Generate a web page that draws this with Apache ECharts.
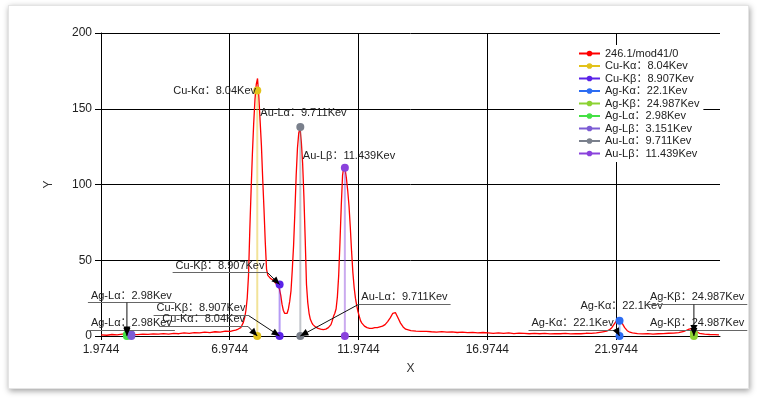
<!DOCTYPE html>
<html>
<head>
<meta charset="utf-8">
<script src="https://cdn.jsdelivr.net/npm/echarts@6/dist/echarts.min.js"></script>
<style>
html,body{margin:0;padding:0;background:#fff;}
#card{position:absolute;left:8px;top:5px;width:739px;height:382px;background:#fff;border:1px solid #e4e4e4;box-shadow:1px 2px 6px rgba(0,0,0,0.38);}
#main{position:absolute;left:0;top:0;width:758px;height:399px;}
</style>
</head>
<body>
<div id="card"></div>
<div id="main"></div>
<script>
// 能谱曲线 [keV, 计数]
const spectrumName = '246.1/mod41/0';
const spectrum = [
  [1.98,0.8],[2.2,0.5],[2.4,1.0],[2.6,0.7],[2.8,1.2],[3.0,1.5],[3.2,1.0],[3.4,0.9],[3.6,1.3],[3.8,1.1],
  [4.0,1.4],[4.2,1.2],[4.4,1.6],[4.6,1.3],[4.8,1.8],[5.0,1.5],[5.2,2.0],[5.4,1.7],[5.6,2.2],[5.8,2.0],
  [6.0,2.5],[6.2,2.2],[6.4,2.8],[6.6,2.6],[6.8,3.2],[7.0,3.0],[7.1,3.6],[7.2,3.9],[7.3,4.6],[7.4,5.5],
  [7.45,6.5],[7.5,9],[7.55,12],[7.6,17],[7.65,25],[7.7,40],[7.75,70],[7.8,96],[7.85,120],[7.9,140],
  [7.95,156],[8.0,166],[8.05,170],[8.1,158],[8.15,142],[8.2,126],[8.25,104],[8.3,84],[8.35,62],[8.4,44],
  [8.45,40],[8.5,39],[8.55,38],[8.6,37.5],[8.65,37],[8.7,36],[8.75,35],[8.8,34],[8.85,33],[8.9,31],
  [8.95,27],[9.0,21],[9.05,17],[9.1,15],[9.15,14],[9.2,15],[9.25,18],[9.3,23],[9.35,30],[9.4,44],
  [9.45,60],[9.5,82],[9.55,106],[9.6,124],[9.65,134],[9.7,137],[9.75,128],[9.8,114],[9.85,92],[9.9,64],
  [9.95,34],[10.0,22],[10.05,15],[10.1,11],[10.15,9],[10.2,7.5],[10.3,6],[10.4,5],[10.5,4.5],[10.6,4.2],
  [10.7,4.5],[10.8,5.5],[10.9,7.5],[10.95,10],[11.0,13],[11.05,15],[11.1,18],[11.15,26],[11.2,40],[11.25,62],
  [11.3,86],[11.35,106],[11.4,112],[11.45,110],[11.5,104],[11.55,96],[11.6,86],[11.65,72],[11.7,56],[11.75,42],
  [11.8,32],[11.85,25],[11.9,20],[11.95,16],[12.0,13],[12.05,10],[12.1,8.5],[12.2,6.5],[12.3,5.5],[12.4,5],
  [12.5,5],[12.6,5.5],[12.7,5.5],[12.8,6],[12.9,6.5],[13.0,7.5],[13.1,9.5],[13.2,12],[13.3,15],[13.35,16],
  [13.4,15.5],[13.5,12],[13.6,8.5],[13.7,6],[13.8,4.5],[13.9,4],[14.0,3.5],[14.2,3.2],[14.4,3.0],[14.6,3.1],
  [14.8,2.8],[15.0,2.6],[15.2,2.9],[15.4,2.5],[15.6,2.7],[15.8,2.3],[16.0,2.5],[16.2,2.2],[16.4,2.4],[16.6,2.0],
  [16.8,2.3],[17.0,2.1],[17.2,1.8],[17.4,2.1],[17.6,1.7],[17.8,2.0],[18.0,1.6],[18.2,1.9],[18.4,1.7],[18.6,1.5],
  [18.8,1.8],[19.0,1.5],[19.2,1.7],[19.4,1.4],[19.6,1.6],[19.8,1.5],[20.0,1.7],[20.2,1.4],[20.4,1.6],[20.6,1.5],
  [20.8,1.8],[21.0,1.7],[21.2,2.0],[21.4,2.6],[21.6,3.2],[21.7,4.0],[21.8,5.5],[21.9,8],[22.0,10.5],[22.1,10],
  [22.2,8.5],[22.3,5.5],[22.4,3.5],[22.5,2.5],[22.6,2.0],[22.8,1.6],[23.0,1.4],[23.2,1.6],[23.4,1.3],[23.6,1.5],
  [23.8,1.6],[24.0,1.8],[24.2,1.9],[24.4,2.2],[24.6,3.0],[24.7,3.8],[24.8,4.5],[24.9,4.8],[25.0,3.8],[25.1,2.8],
  [25.2,1.8],[25.4,1.2],[25.6,1.0],[25.8,0.9],[25.96,0.8]
];

// 特征谱线
const lineNames = ['Cu-Kα：8.04Kev', 'Cu-Kβ：8.907Kev', 'Ag-Kα：22.1Kev', 'Ag-Kβ：24.987Kev',
  'Ag-Lα：2.98Kev', 'Ag-Lβ：3.151Kev', 'Au-Lα：9.711Kev', 'Au-Lβ：11.439Kev'];
const lineEnergy = [8.04, 8.907, 22.1, 24.987, 2.98, 3.151, 9.711, 11.439];
const lineHeight = [162, 34, 10, 2, 1, 1, 138, 111];
const lineColors = ['#e2c21a', '#5a22e8', '#2c6cf2', '#8cd232', '#44e044', '#7c5cd4', '#7a808c', '#8a42dc'];

// 坐标轴
const xMin = 1.9744, xMax = 26, xStep = 5;
const yMin = 0, yMax = 200, yStep = 50;

// 标注: [谱线序号, 0底/1顶, dx, dy, 是否下划线]
const notes = [
  [0, 1, -84, 0, false],
  [6, 1, -40, -14, false],
  [7, 1, -42, -12, false],
  [2, 1, -39, -15, false],
  [1, 1, -104, -19, true],
  [1, 0, -123, -28, true],
  [0, 0, -95, -17, true],
  [4, 1, -36, -39, true],
  [4, 0, -36, -13, true],
  [6, 0, 61, -39, true],
  [2, 0, -88, -13, true],
  [3, 1, -44, -36, true],
  [3, 0, -44, -13, true]
];

const FONT = '"Liberation Sans", Arial, "Noto Sans CJK SC", sans-serif';

function setOption(chart) {
  const series = [{
    name: spectrumName,
    type: 'line',
    data: spectrum,
    symbol: 'none',
    lineStyle: { color: '#ff0000', width: 1.3 },
    itemStyle: { color: '#ff0000' },
    z: 2
  }];
  lineNames.forEach((name, i) => {
    series.push({
      name: name,
      type: 'line',
      data: [[lineEnergy[i], 0], [lineEnergy[i], lineHeight[i]]],
      symbol: 'circle',
      symbolSize: 8,
      itemStyle: { color: lineColors[i] },
      lineStyle: { color: lineColors[i], width: 2, opacity: 0.45 },
      z: 3
    });
  });
  chart.setOption({
    animation: false,
    backgroundColor: 'transparent',
    textStyle: { fontFamily: FONT },
    grid: { left: 101, top: 33, right: 38, bottom: 63 },
    legend: {
      orient: 'vertical',
      left: 574,
      top: 45,
      itemWidth: 21,
      itemHeight: 7,
      itemGap: 1.5,
      padding: [3, 4],
      backgroundColor: '#fff',
      lineStyle: { opacity: 1 },
      textStyle: { fontSize: 11, color: '#222', fontFamily: FONT, lineHeight: 10 },
      data: [spectrumName].concat(lineNames)
    },
    xAxis: {
      type: 'value',
      min: xMin,
      max: xMax,
      interval: xStep,
      name: 'X',
      nameLocation: 'middle',
      nameGap: 27,
      nameTextStyle: { fontSize: 12, color: '#333' },
      axisLine: { lineStyle: { color: '#000' } },
      axisTick: { length: 4, lineStyle: { color: '#000' } },
      axisLabel: {
        formatter: v => (xMin + Math.round((v - xMin) / xStep) * xStep).toFixed(4),
        showMaxLabel: false, color: '#222', fontSize: 12, margin: 8
      },
      splitLine: { show: true, showMaxLine: false, lineStyle: { color: '#000' } }
    },
    yAxis: {
      type: 'value',
      min: yMin,
      max: yMax,
      interval: yStep,
      name: 'Y',
      nameLocation: 'middle',
      nameGap: 46,
      nameTextStyle: { fontSize: 12, color: '#333' },
      axisLine: { show: true, lineStyle: { color: '#000' } },
      axisTick: { show: true, length: 6, lineStyle: { color: '#000' } },
      axisLabel: { color: '#222', fontSize: 12, margin: 9 },
      splitLine: { show: true, lineStyle: { color: '#000' } }
    },
    series: series
  });
}

// 标注文字、下划线、引线
function drawNotes(chart) {
  const ctx = document.createElement('canvas').getContext('2d');
  ctx.font = '11px ' + FONT;
  const g = [];
  notes.forEach(n => {
    const i = n[0];
    const p = chart.convertToPixel({ gridIndex: 0 }, [lineEnergy[i], n[1] ? lineHeight[i] : 0]);
    const tx = p[0] + n[2], ty = p[1] + n[3];
    g.push({
      type: 'text', x: tx, y: ty, z: 100,
      style: { text: lineNames[i], fill: '#222', font: '11px ' + FONT, verticalAlign: 'middle' }
    });
    if (!n[4]) return;
    const w = ctx.measureText(lineNames[i]).width;
    const uy = Math.round(ty + 7) + 0.5, x1 = tx - 3, x2 = tx + w + 3;
    g.push({ type: 'line', z: 100, shape: { x1: x1, y1: uy, x2: x2, y2: uy }, style: { stroke: '#666', lineWidth: 1 } });
    const sx = Math.min(Math.max(p[0], x1), x2);
    g.push({ type: 'line', z: 100, shape: { x1: sx, y1: uy, x2: p[0], y2: p[1] }, style: { stroke: '#111', lineWidth: 1 } });
    const a = Math.atan2(p[1] - uy, p[0] - sx);
    const len = 8, hw = 3.5;
    const bx = p[0] - len * Math.cos(a), by = p[1] - len * Math.sin(a);
    g.push({
      type: 'polygon', z: 101,
      shape: { points: [[p[0], p[1]], [bx - hw * Math.sin(a), by + hw * Math.cos(a)], [bx + hw * Math.sin(a), by - hw * Math.cos(a)]] },
      style: { fill: '#000' }
    });
  });
  chart.setOption({ graphic: g });
}

const chart = echarts.init(document.getElementById('main'), null, { renderer: 'canvas' });
setOption(chart);
drawNotes(chart);
</script>
</body>
</html>
